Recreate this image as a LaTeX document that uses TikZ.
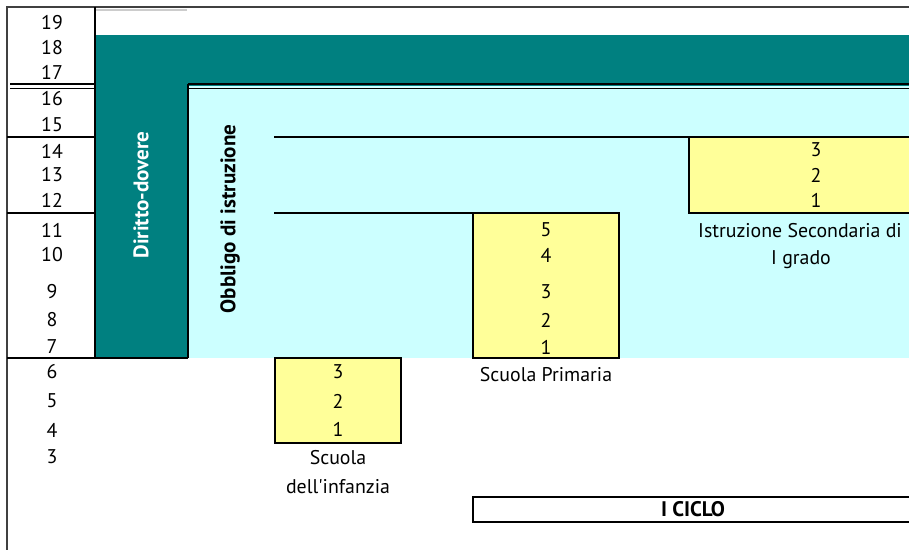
\documentclass[tikz,border=0pt]{standalone}
\usepackage{fontspec}
\setmainfont{PT Sans}
\usepackage{xcolor}
\definecolor{diritto}{HTML}{008080}
\definecolor{obbligo}{HTML}{CCFFFF}
\definecolor{anno}{HTML}{FFFF99}
\tikzset{box/.style = {draw=black, line width=1.1pt, fill=anno},
  rule/.style = {draw=black, line width=1.1pt},
  frame/.style = {draw=black!75, line width=0.8pt},
  lab/.style = {font=\fontsize{11.3}{13}\selectfont, inner sep=0pt},
  head/.style = {font=\fontsize{12}{14}\selectfont\bfseries, inner sep=0pt}}

\begin{document}
\begin{tikzpicture}[x=0.02cm,y=-0.02cm,every node/.style={lab}]
  \useasboundingbox (0,0) rectangle (909,550);
  \clip (0,0) rectangle (909,550);
  \fill[diritto] (95,35) rectangle (912,358);
  \fill[obbligo] (188,86) rectangle (912,358);
  \draw[black!20, line width=0.6pt] (95,10) -- (187,10);
  \draw[frame] (912,7) -- (7,7) -- (7,552);
  \draw[rule] (95,7) -- (95,358);
  \draw[rule] (10,84) -- (95,84) (10,88.5) -- (95,88.5);
  \draw[rule] (188,84) -- (912,84) (188,88.5) -- (912,88.5);
  \draw[rule] (188,84) -- (188,358);
  \draw[rule] (7,137) -- (95,137) (7,213) -- (95,213) (7,358) -- (188,358);
  \draw[rule] (274,137) -- (912,137) (274,213) -- (473,213);
  \draw[box] (689,137) rectangle (912,213);
  \draw[box] (473,213) rectangle (619,358);
  \draw[box] (275,358) rectangle (401,443);
  \draw[rule] (473,497) rectangle (912,522);
  \foreach \n/\y in {19/23,18/48,17/72,16/99,15/125,14/151,13/175,12/200,
    11/230,10/255,9/292,8/320,7/347,6/372,5/401,4/430,3/457}
    \node (eta\n) at (52,\y) {\n};
  \foreach \n/\y in {3/150,2/175,1/200}
    \node (sec\n) at (816,\y) {\n};
  \foreach \n/\y in {5/230,4/255,3/292,2/320,1/347}
    \node (pri\n) at (546,\y) {\n};
  \foreach \n/\y in {3/372,2/401,1/429}
    \node (inf\n) at (338,\y) {\n};
  \node (S) at (338,458) {Scuola};
  \node (D) at (338,487) {dell\textquotesingle infanzia};
  \node (P) at (546,375) {Scuola Primaria};
  \node (I) at (800,231) {Istruzione Secondaria di};
  \node (G) at (801,260) {I grado};
  \node[head] (C) at (693,509) {I CICLO};
  \node[head, rotate=90, text=white] (DD) at (141,195) {Diritto-dovere};
  \node[head, rotate=90] (OB) at (230,219) {Obbligo di istruzione};
\end{tikzpicture}
\end{document}
